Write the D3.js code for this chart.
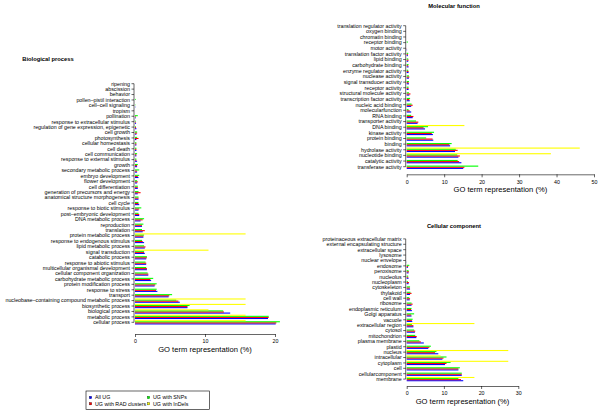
<!DOCTYPE html>
<html><head><meta charset="utf-8">
<script src="https://d3js.org/d3.v7.min.js"></script>
<style>body{margin:0;background:#fff}svg{display:block}text{font-family:"Liberation Sans",Arial,Helvetica,sans-serif;fill:#000}</style>
</head><body>
<svg id="c" width="600" height="412"></svg>
<script>
const seriesNames = ["All UG","UG with RAD clusters","UG with SNPs","UG with InDels"];
const seriesColors = ["#0000FF","#FF0000","#00FF00","#FFFF00"];

// Biological process (top -> bottom)
const bpCategories = ["ripening","abscission","behavior","pollen–pistil interaction","cell–cell signaling","tropism","pollination","response to extracellular stimulus","regulation of gene expression, epigenetic","cell growth","photosynthesis","cellular homeostasis","cell death","cell communication","response to external stimulus","growth","secondary metabolic process","embryo development","flower development","cell differentiation","generation of precursors and energy","anatomical structure morphogenesis","cell cycle","response to biotic stimulus","post–embryonic development","DNA metabolic process","reproduction","translation","protein metabolic process","response to endogenous stimulus","lipid metabolic process","signal transduction","catabolic process","response to abiotic stimulus","multicellular organismal development","cellular component organization","carbohydrate metabolic process","protein modification process","response to stress","transport","nucleobase–containing compound metabolic process","biosynthetic process","biological process","metabolic process","cellular process"];
const bpAllUG  = [0,0,0,0,0.05,0,0.1,0.15,0.2,0.2,0.2,0.2,0.2,0.2,0.3,0.3,0.3,0.5,0.3,0.4,0.4,0.5,0.6,0.5,0.6,0.8,1.0,1.1,1.2,1.3,1.4,1.4,1.6,1.6,1.7,1.9,2.3,2.8,3.2,4.8,6.4,7.5,13.6,19.0,20.1];
const bpRAD    = [0,0,0,0,0,0,0.1,0.1,0.15,0.3,0.5,0.2,0.2,0.2,0.2,0.3,0.3,0.4,0.4,0.4,0.8,0.5,0.5,0.6,0.6,1.1,1.0,1.4,1.2,1.1,1.5,1.3,1.7,1.6,1.7,1.9,2.2,2.9,3.0,4.9,6.2,7.5,12.7,19.1,20.2];
const bpSNP    = [0,0,0,0.1,0.05,0,0.4,0.1,0.1,0.3,0.3,0.2,0.2,0.3,0.2,0.4,0.6,0.6,0.3,0.4,0.5,0.5,0.5,0.9,0.5,1.3,1.2,1.0,1.3,1.0,1.3,1.3,1.7,1.5,1.6,1.8,2.6,3.1,3.1,5.3,5.9,7.8,12.6,19.1,20.7];
const bpInDel  = [0,0,0,0,0,0,0,0,0,0,0,0,0,0,0,0,0,0,0,0,0,0,0,0,0,0,0,0,15.8,0,0,10.5,0,0,0,0,0,0,0,0,15.8,15.8,10.5,15.8,15.8];
const bpTicks = [0,10,20];

// Molecular function (top -> bottom)
const mfCategories = ["translation regulator activity","oxygen binding","chromatin binding","receptor binding","motor activity","translation factor activity","lipid binding","carbohydrate binding","enzyme regulator activity","nuclease activity","signal transducer activity","receptor activity","structural molecule activity","transcription factor activity","nucleic acid binding","molecularfunction","RNA binding","transporter activity","DNA binding","kinase activity","protein binding","binding","hydrolase activity","nucleotide binding","catalytic activity","transferase activity"];
const mfAllUG = [0,0,0,0,0.1,0.3,0.4,0.5,0.5,0.6,0.6,0.5,0.7,0.8,1.2,1.2,1.6,2.9,4.9,7.0,7.1,11.6,12.9,13.8,14.6,15.1];
const mfRAD   = [0,0,0,0,0.05,0.3,0.5,0.4,0.5,0.7,0.5,0.5,1.0,0.7,1.6,0.8,1.8,3.1,4.5,6.7,6.9,11.4,13.6,14.2,14.0,15.4];
const mfSNP   = [0,0,0,0.3,0,0.4,0.4,0.5,0.4,0.6,0.6,0.5,0.6,0.9,1.3,0.5,1.2,2.5,5.7,7.3,5.2,12.0,13.1,13.5,13.6,19.1];
const mfInDel = [0,0,0,0,0,0,0,0,0,0,0,0,0,0,0,0,0,0,15.4,0,0,0,46.2,38.5,0,0];
const mfTicks = [0,10,20,30,40,50];

// Cellular component (top -> bottom)
const ccCategories = ["proteinaceous extracellular matrix","external encapsulating structure","extracellular space","lysosome","nuclear envelope","endosome","peroxisome","nucleolus","nucleoplasm","cytoskeleton","thylakoid","cell wall","ribosome","endoplasmic reticulum","Golgi apparatus","vacuole","extracellular region","cytosol","mitochondrion","plasma membrane","plastid","nucleus","intracellular","cytoplasm","cell","cellularcomponent","membrane"];
const ccAllUG = [0,0,0,0,0.05,0.3,0.5,0.5,0.5,0.9,0.9,0.8,1.3,1.4,1.3,1.5,1.8,2.2,2.6,4.6,5.8,8.5,9.6,10.3,13.9,14.8,15.2];
const ccRAD   = [0,0,0,0,0,0.4,0.6,0.4,0.6,0.8,1.3,0.9,1.6,1.2,1.2,1.4,1.8,2.3,2.7,3.8,6.1,7.6,9.9,10.7,13.9,14.8,14.6];
const ccSNP   = [0,0,0,0,0,0.7,0.5,0.4,0.3,0.9,1.0,0.7,1.3,1.3,2.0,1.6,1.4,2.0,2.3,3.4,6.5,8.0,10.7,11.8,14.3,14.8,13.9];
const ccInDel = [0,0,0,0,0,0,0,0,0,0,0,0,0,0,0,0,18.2,0,0,0,0,27.3,9.1,27.3,0,0,18.2];
const ccTicks = [0,10,20,30];

const svg = d3.select("#c");
const FS = 5.3;

function panel(o){
  const g = svg.append("g");
  const n = o.cats.length;
  const step = (o.yLast - o.yFirst)/(n-1);
  const y = d3.scaleBand().domain(o.cats).range([o.yFirst - step/2, o.yLast + step/2]).paddingInner(0.2).paddingOuter(0.1);
  const x = d3.scaleLinear().domain(o.domain).range([o.x0, o.x1]);
  const sub = d3.scaleBand().domain([3,2,1,0]).range([0, y.bandwidth()]);
  const series = o.series;
  o.cats.forEach((c,i)=>{
    series.forEach((s,j)=>{
      if(s[i] <= 0) return;
      g.append("rect").attr("x", x(0)).attr("y", y(c)+sub(j))
        .attr("width", x(s[i]) - x(0)).attr("height", sub.bandwidth())
        .attr("fill", seriesColors[j]);
    });
  });
  // y axis
  const ya = g.append("g").attr("transform", `translate(${o.x0 - 1},0)`);
  ya.append("line").attr("x1",0).attr("x2",0).attr("y1",o.yFirst).attr("y2",o.yLast).attr("stroke","#000").attr("stroke-width",0.6);
  o.cats.forEach(c=>{
    const cy = y(c) + y.bandwidth()/2;
    ya.append("line").attr("x1",0).attr("x2",-2.5).attr("y1",cy).attr("y2",cy).attr("stroke","#000").attr("stroke-width",0.6);
    ya.append("text").attr("x",-4).attr("y",cy).attr("dy","0.35em").attr("text-anchor","end").attr("font-size",FS).style("fill","#000").text(c);
  });
  // x axis
  const xa = g.append("g").attr("transform", `translate(0,${o.axisY})`)
    .call(d3.axisBottom(x).tickValues(o.ticks).tickSize(3).tickSizeOuter(0).tickPadding(2.5));
  xa.select(".domain").attr("stroke-width",0.6).attr("stroke","#000");
  xa.selectAll(".tick line").attr("stroke-width",0.6).attr("stroke","#000");
  xa.selectAll("text").attr("font-size",FS).attr("font-family",null).style("fill","#000");
  g.append("text").attr("x",(o.x0+o.x1)/2 + (o.titleDx||0)).attr("y",o.axisY + o.titleDy).attr("text-anchor","middle")
    .attr("font-size",o.axisFS).style("fill","#000").text("GO term representation (%)");
  g.append("text").attr("x",o.headX).attr("y",o.headY).attr("text-anchor","middle").attr("font-weight","bold")
    .attr("font-size",5.8).style("fill","#000").text(o.head);
}

panel({cats:bpCategories, series:[bpAllUG,bpRAD,bpSNP,bpInDel], domain:[0,20], x0:135, x1:275, ticks:bpTicks,
  yFirst:83.7, yLast:322.3, axisY:334, titleDy:18, axisFS:7.6, head:"Biological process", headX:48, headY:61});
panel({cats:mfCategories, series:[mfAllUG,mfRAD,mfSNP,mfInDel], domain:[0,50], x0:406.7, x1:594, ticks:mfTicks,
  yFirst:25.7, yLast:166.7, axisY:174.3, titleDy:17.5, axisFS:7.6, head:"Molecular function", headX:454, headY:8});
panel({cats:ccCategories, series:[ccAllUG,ccRAD,ccSNP,ccInDel], domain:[0,30], x0:406.7, x1:518.3, ticks:ccTicks,
  yFirst:238.9, yLast:379.1, axisY:386, titleDy:17.5, axisFS:7.6, head:"Cellular component", headX:454, headY:228});

// legend
const lg = svg.append("g");
lg.append("rect").attr("x",86).attr("y",391).attr("width",123.3).attr("height",18.3).attr("fill","none").attr("stroke","#000").attr("stroke-width",0.6);
const legPos = [[90.5,397.5],[90.5,403.7],[148.5,397.5],[148.5,403.7]];
seriesNames.forEach((nm,i)=>{
  const [lx,ly] = legPos[i];
  lg.append("rect").attr("x",lx-1.2).attr("y",ly-1.2).attr("width",2.4).attr("height",2.4).attr("fill",seriesColors[i]).attr("stroke","#000").attr("stroke-width",0.3);
  lg.append("text").attr("x",lx+4.5).attr("y",ly).attr("dy","0.35em").attr("font-size",FS).style("fill","#000").text(nm);
});
</script>
</body></html>
